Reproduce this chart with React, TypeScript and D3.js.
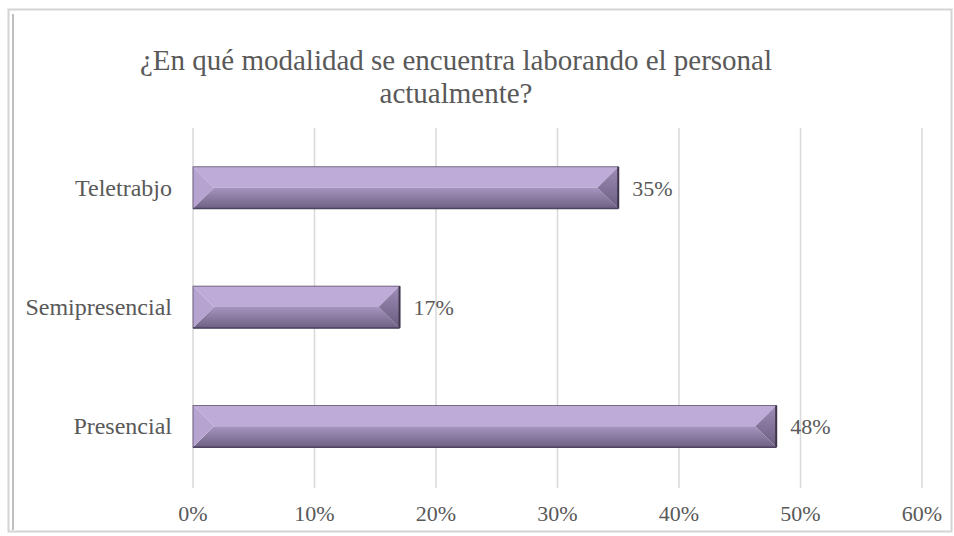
import React from 'react';
import * as d3 from 'd3';

const categories = ['Teletrabjo', 'Semipresencial', 'Presencial'];
const values = [0.35, 0.17, 0.48];
const tickValues = [0, 0.1, 0.2, 0.3, 0.4, 0.5, 0.6];
const titleLines = ['¿En qué modalidad se encuentra laborando el personal', 'actualmente?'];

const W = 954;
const H = 536;
const font = 'Liberation Serif';

export default function App() {
    const x = d3.scaleLinear().domain([0, 0.6]).range([193, 922]);
    const y = d3.scaleBand<string>().domain(categories).range([128, 486]).paddingInner(0.65).paddingOuter(0.325);
    const bh = y.bandwidth();
    const fmt = d3.format('.0%');

    return (
        <svg width={W} height={H} style={{ position: 'absolute', left: 0, top: 0 }}>
            <defs>
                <linearGradient id="bottomGrad" x1="0" y1="0" x2="0" y2="1">
                    <stop offset="0%" stopColor="#a695bf" />
                    <stop offset="100%" stopColor="#6e6084" />
                </linearGradient>
                <linearGradient id="rightGrad" x1="0" y1="0" x2="0" y2="1">
                    <stop offset="0%" stopColor="#9e8cb6" />
                    <stop offset="100%" stopColor="#6a5c80" />
                </linearGradient>
            </defs>
            <rect x={0} y={0} width={W} height={H} fill="#fff" />
            {/* frame */}
            <rect x={8.5} y={9.5} width={943} height={522} fill="none" stroke="#d4d4d4" strokeWidth={2} />
            <line x1={13} y1={14} x2={13} y2={530} stroke="#a8a8a8" strokeWidth={1.5} />

            {titleLines.map((t, i) => (
                <text key={i} x={456} y={70 + i * 33} textAnchor="middle" fontFamily={font} fontSize={29} fill="#595959">{t}</text>
            ))}

            {tickValues.map(t => (
                <g key={t}>
                    <line x1={x(t)} x2={x(t)} y1={128} y2={488} stroke="#d9d9d9" strokeWidth={1.5} />
                    <text x={x(t)} y={521} textAnchor="middle" fontFamily={font} fontSize={22} fill="#595959">{fmt(t)}</text>
                </g>
            ))}

            {categories.map((c, i) => {
                const x0 = x(0);
                const x1 = x(values[i]);
                const y0 = y(c)!;
                const y1 = y0 + bh;
                const ym = y0 + bh / 2;
                const b = bh / 2;
                return (
                    <g key={c}>
                        <polygon points={`${x0},${y0} ${x1},${y0} ${x1 - b},${ym} ${x0 + b},${ym}`} fill="#bfabd7" />
                        <polygon points={`${x0},${y1} ${x1},${y1} ${x1 - b},${ym} ${x0 + b},${ym}`} fill="url(#bottomGrad)" />
                        <polygon points={`${x0},${y0} ${x0 + b},${ym} ${x0},${y1}`} fill="#b7a3d0" />
                        <polygon points={`${x1},${y0} ${x1 - b},${ym} ${x1},${y1}`} fill="url(#rightGrad)" />
                        <rect x={x0} y={y0} width={x1 - x0} height={bh} fill="none" stroke="#5e526f" strokeWidth={0.8} />
                        <line x1={x1} x2={x1} y1={y0} y2={y1} stroke="#3e354b" strokeWidth={2} />
                        <line x1={x0} x2={x1} y1={y1} y2={y1} stroke="#4e4360" strokeWidth={1.5} />
                        <text x={x0 - 21} y={ym + 8} textAnchor="end" fontFamily={font} fontSize={24} fill="#595959">{c}</text>
                        <text x={x1 + 14} y={ym + 8} fontFamily={font} fontSize={22} fill="#595959">{fmt(values[i])}</text>
                    </g>
                );
            })}
        </svg>
    );
}
